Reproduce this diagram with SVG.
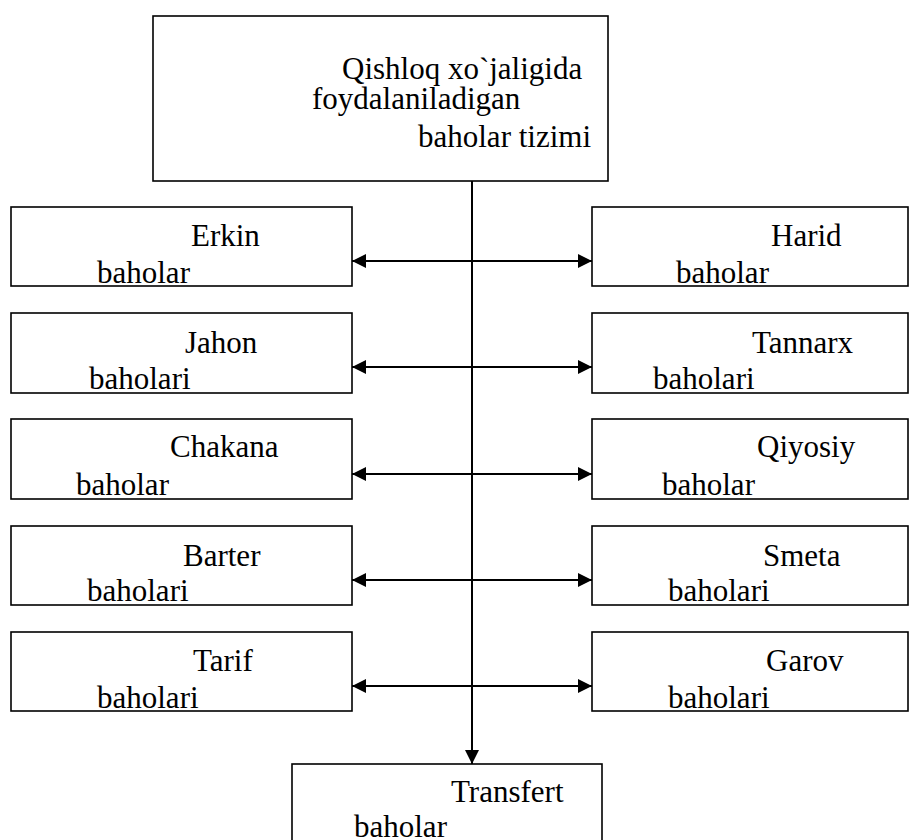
<svg xmlns="http://www.w3.org/2000/svg" width="920" height="840" viewBox="0 0 920 840">
<style>
.box{fill:#fff;stroke:#000;stroke-width:1.6}
.t{font-family:'Liberation Serif','Times New Roman','DejaVu Serif',serif;font-size:31px;fill:#000}
.c{stroke:#000;stroke-width:2;fill:none}
</style>
<defs>
<marker id="ah" viewBox="0 0 14 14" refX="14" refY="7" markerWidth="14" markerHeight="14" markerUnits="userSpaceOnUse" orient="auto-start-reverse">
<path d="M0,0 L14,7 L0,14 Z" fill="#000"/>
</marker>
</defs>
<rect width="920" height="840" fill="#fff"/>
<g id="connectors">
<line class="c" x1="472" y1="181" x2="472" y2="764" marker-end="url(#ah)"/>
<line class="c" x1="352" y1="261" x2="592" y2="261" marker-start="url(#ah)" marker-end="url(#ah)"/>
<line class="c" x1="352" y1="367" x2="592" y2="367" marker-start="url(#ah)" marker-end="url(#ah)"/>
<line class="c" x1="352" y1="474" x2="592" y2="474" marker-start="url(#ah)" marker-end="url(#ah)"/>
<line class="c" x1="352" y1="580" x2="592" y2="580" marker-start="url(#ah)" marker-end="url(#ah)"/>
<line class="c" x1="352" y1="686" x2="592" y2="686" marker-start="url(#ah)" marker-end="url(#ah)"/>
</g>
<g id="top">
<rect class="box" x="153" y="16" width="455" height="165"/>
<text class="t" font-family="Liberation Serif, serif" x="342" y="79">Qishloq xo`jaligida</text>
<text class="t" font-family="Liberation Serif, serif" x="312" y="109">foydalaniladigan</text>
<text class="t" font-family="Liberation Serif, serif" x="418" y="147">baholar tizimi</text>
</g>
<g id="erkin">
<rect class="box" x="11" y="207" width="341" height="79"/>
<text class="t" x="191" y="246">Erkin</text>
<text class="t" x="97" y="283">baholar</text>
</g>
<g id="harid">
<rect class="box" x="592" y="207" width="316" height="79"/>
<text class="t" x="771" y="246">Harid</text>
<text class="t" x="676" y="283">baholar</text>
</g>
<g id="jahon">
<rect class="box" x="11" y="313" width="341" height="80"/>
<text class="t" x="185" y="353">Jahon</text>
<text class="t" x="89" y="389">baholari</text>
</g>
<g id="tannarx">
<rect class="box" x="592" y="313" width="316" height="80"/>
<text class="t" x="752" y="353">Tannarx</text>
<text class="t" x="653" y="389">baholari</text>
</g>
<g id="chakana">
<rect class="box" x="11" y="419" width="341" height="80"/>
<text class="t" x="170" y="457">Chakana</text>
<text class="t" x="76" y="495">baholar</text>
</g>
<g id="qiyosiy">
<rect class="box" x="592" y="419" width="316" height="80"/>
<text class="t" x="757" y="457">Qiyosiy</text>
<text class="t" x="662" y="495">baholar</text>
</g>
<g id="barter">
<rect class="box" x="11" y="526" width="341" height="79"/>
<text class="t" x="183" y="566">Barter</text>
<text class="t" x="87" y="601">baholari</text>
</g>
<g id="smeta">
<rect class="box" x="592" y="526" width="316" height="79"/>
<text class="t" x="763" y="566">Smeta</text>
<text class="t" x="668" y="601">baholari</text>
</g>
<g id="tarif">
<rect class="box" x="11" y="632" width="341" height="79"/>
<text class="t" x="193" y="671">Tarif</text>
<text class="t" x="97" y="708">baholari</text>
</g>
<g id="garov">
<rect class="box" x="592" y="632" width="316" height="79"/>
<text class="t" x="766" y="671">Garov</text>
<text class="t" x="668" y="708">baholari</text>
</g>
<g id="transfert">
<rect class="box" x="292" y="764" width="310" height="100"/>
<text class="t" x="451" y="802">Transfert</text>
<text class="t" x="354" y="837">baholar</text>
</g>
</svg>
